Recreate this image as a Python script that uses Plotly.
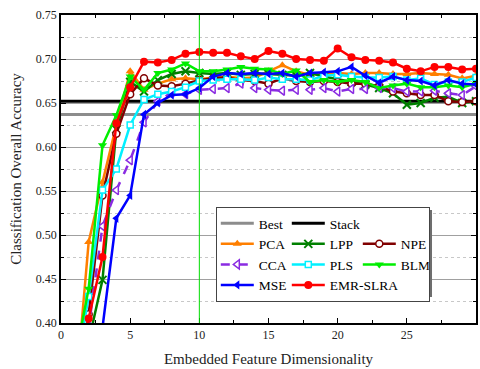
import plotly.graph_objects as go

dims = list(range(1, 31))
best_acc = 0.637
stack_acc = 0.652

pca = [0.310, 0.492, 0.560, 0.625, 0.686, 0.665, 0.672, 0.677, 0.678, 0.677,
       0.679, 0.680, 0.678, 0.679, 0.686, 0.693, 0.686, 0.682, 0.684, 0.684,
       0.683, 0.684, 0.684, 0.683, 0.683, 0.684, 0.683, 0.682, 0.678, 0.681]
lpp = [0.300, 0.379, 0.449, 0.620, 0.674, 0.663, 0.676, 0.683, 0.686, 0.684,
       0.683, 0.684, 0.682, 0.683, 0.683, 0.682, 0.681, 0.684, 0.680, 0.677,
       0.674, 0.671, 0.667, 0.661, 0.648, 0.650, 0.656, 0.657, 0.650, 0.652]
npe = [0.300, 0.410, 0.545, 0.615, 0.660, 0.678, 0.670, 0.669, 0.672, 0.676,
       0.678, 0.679, 0.676, 0.675, 0.672, 0.678, 0.675, 0.674, 0.675, 0.674,
       0.672, 0.672, 0.669, 0.663, 0.661, 0.659, 0.659, 0.652, 0.651, 0.652]
cca = [0.290, 0.395, 0.510, 0.551, 0.585, 0.628, 0.652, 0.662, 0.660, 0.665,
       0.666, 0.667, 0.672, 0.667, 0.665, 0.664, 0.665, 0.665, 0.667, 0.663,
       0.666, 0.666, 0.667, 0.667, 0.663, 0.663, 0.664, 0.661, 0.659, 0.669]
pls = [0.339, 0.430, 0.551, 0.575, 0.625, 0.654, 0.660, 0.663, 0.668, 0.675,
       0.676, 0.677, 0.677, 0.676, 0.679, 0.677, 0.677, 0.676, 0.681, 0.682,
       0.680, 0.679, 0.679, 0.680, 0.676, 0.678, 0.671, 0.674, 0.674, 0.679]
blm = [0.358, 0.439, 0.602, 0.636, 0.680, 0.665, 0.684, 0.688, 0.695, 0.686,
       0.686, 0.688, 0.691, 0.689, 0.688, 0.683, 0.687, 0.674, 0.676, 0.674,
       0.676, 0.674, 0.667, 0.670, 0.672, 0.668, 0.668, 0.670, 0.668, 0.672]
mse = [0.280, 0.330, 0.395, 0.519, 0.545, 0.637, 0.650, 0.659, 0.660, 0.667,
       0.680, 0.684, 0.683, 0.684, 0.683, 0.684, 0.680, 0.684, 0.685, 0.686,
       0.691, 0.681, 0.673, 0.680, 0.676, 0.675, 0.670, 0.676, 0.672, 0.671]
emr = [0.300, 0.405, 0.475, 0.627, 0.668, 0.697, 0.696, 0.699, 0.706, 0.708,
       0.707, 0.707, 0.703, 0.700, 0.709, 0.706, 0.700, 0.699, 0.698, 0.712,
       0.702, 0.699, 0.698, 0.696, 0.689, 0.686, 0.691, 0.691, 0.688, 0.689]

x_span = [0, 30]
FONT = "Liberation Serif"

fig = go.Figure()

fig.add_trace(go.Scatter(x=x_span, y=[best_acc, best_acc], mode="lines", name="Best",
                         line=dict(color="#8c8c8c", width=3), legendgroup="c1"))
fig.add_trace(go.Scatter(x=x_span, y=[stack_acc, stack_acc], mode="lines", name="Stack",
                         line=dict(color="black", width=3), legendgroup="c2"))
fig.add_trace(go.Scatter(x=[None], y=[None], mode="lines", name=" ",
                         line=dict(color="rgba(0,0,0,0)", width=0), legendgroup="c3",
                         hoverinfo="skip"))

series = [
    ("PCA", pca, "#ff7f00", dict(symbol="triangle-up", size=8, color="#ff7f00"), "solid", "c1"),
    ("LPP", lpp, "#008000", dict(symbol="x-thin", size=8, color="#008000",
                                 line=dict(color="#008000", width=2)), "solid", "c2"),
    ("NPE", npe, "#800000", dict(symbol="circle", size=7, color="white",
                                 line=dict(color="#800000", width=1.5)), "solid", "c3"),
    ("CCA", cca, "#8a2be2", dict(symbol="triangle-left", size=8, color="white",
                                 line=dict(color="#8a2be2", width=1.5)), "dash", "c1"),
    ("PLS", pls, "#00f0ff", dict(symbol="square", size=6, color="white",
                                 line=dict(color="#00f0ff", width=1.5)), "solid", "c2"),
    ("BLM", blm, "#00ee00", dict(symbol="triangle-down", size=8, color="#00ee00"), "solid", "c3"),
    ("MSE", mse, "#0000ff", dict(symbol="triangle-left", size=8, color="#0000ff"), "solid", "c1"),
    ("EMR-SLRA", emr, "#ff0000", dict(symbol="circle", size=8, color="#ff0000"), "solid", "c2"),
]
for name, vals, col, mk, dash, grp in series:
    fig.add_trace(go.Scatter(x=dims, y=vals, mode="lines+markers", name=name,
                             line=dict(color=col, width=2.5, dash=dash),
                             marker=mk, legendgroup=grp, cliponaxis=True))

fig.add_vline(x=10, line=dict(color="#00dd00", width=1))

# legend drop shadow
fig.add_shape(type="rect", xref="paper", yref="paper",
              x0=0.3807, x1=0.894, y0=0.0844, y1=0.3669,
              fillcolor="#6e6e6e", line=dict(width=0), layer="above")

axis_common = dict(showline=True, linecolor="black", linewidth=1.5, mirror="ticks",
                   ticks="inside", ticklen=5, tickcolor="black", zeroline=False,
                   automargin=False,
                   tickfont=dict(family=FONT, size=12, color="#222"))

fig.update_xaxes(range=[0, 30], dtick=5, tick0=0, showgrid=False,
                 minor=dict(dtick=2.5, ticks="inside", ticklen=3, tickcolor="black", showgrid=False),
                 title=dict(text="Embedded Feature Dimensionality",
                            font=dict(family=FONT, size=15, color="#222"), standoff=12),
                 **axis_common)
fig.update_yaxes(range=[0.40, 0.75], dtick=0.05, tick0=0.40, tickformat=".2f",
                 showgrid=True, gridcolor="#a0a0a0", gridwidth=1,
                 minor=dict(dtick=0.025, ticks="inside", ticklen=3, tickcolor="black",
                            showgrid=True, gridcolor="#c8c8c8", griddash="dot", gridwidth=1),
                 title=dict(text="Classification Overall Accuracy",
                            font=dict(family=FONT, size=15, color="#222"), standoff=11),
                 **axis_common)

fig.update_layout(
    width=480, height=369,
    margin=dict(l=61, r=4, t=15, b=46, autoexpand=False),
    paper_bgcolor="white", plot_bgcolor="white",
    font=dict(family=FONT, size=14, color="black"),
    showlegend=True,
    legend=dict(orientation="h", traceorder="grouped", x=0.373, y=0.3766,
                xanchor="left", yanchor="top", bgcolor="white",
                bordercolor="#444", borderwidth=1, itemwidth=33,
                entrywidth=23, entrywidthmode="pixels",
                font=dict(family=FONT, size=13.5, color="black"), tracegroupgap=0),
)

fig.write_html("out.html", config={"displayModeBar": False},
               post_script="document.body.style.margin='0';document.body.style.padding='0';")
